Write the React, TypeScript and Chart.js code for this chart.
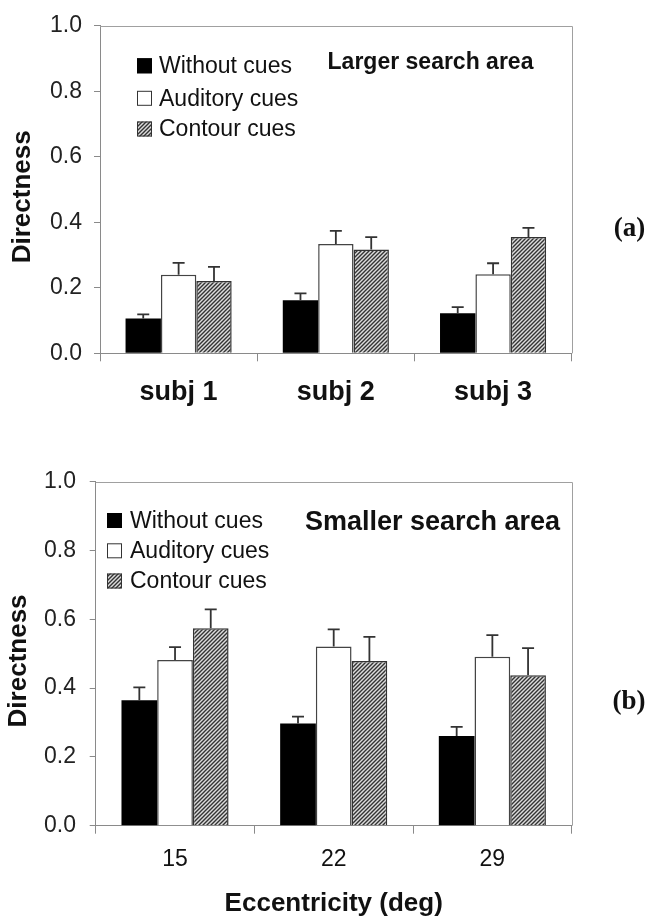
import React, { useEffect, useRef } from "react";
import { Chart, registerables } from "chart.js";

Chart.register(...registerables);

// ---------- data ----------
const seriesLabels = ["Without cues", "Auditory cues", "Contour cues"];

const subjects = ["subj 1", "subj 2", "subj 3"];
const withoutA = [0.106, 0.162, 0.122];
const auditoryA = [0.24, 0.334, 0.241];
const contourA = [0.221, 0.317, 0.355];
const withoutErrA = [0.013, 0.021, 0.019];
const auditoryErrA = [0.036, 0.04, 0.034];
const contourErrA = [0.043, 0.038, 0.028];

const eccentricities = ["15", "22", "29"];
const withoutB = [0.365, 0.297, 0.261];
const auditoryB = [0.482, 0.521, 0.491];
const contourB = [0.574, 0.479, 0.437];
const withoutErrB = [0.037, 0.02, 0.026];
const auditoryErrB = [0.037, 0.05, 0.063];
const contourErrB = [0.055, 0.07, 0.079];

const panelATitle = "Larger search area";
const panelBTitle = "Smaller search area";
const yTitle = "Directness";
const xTitleB = "Eccentricity (deg)";

// ---------- styling ----------
const SANS = '"Liberation Sans", Arial, Helvetica, sans-serif';
const SERIF = '"Liberation Serif", "Times New Roman", serif';
const AXIS = "#8a8a8a";

function makeHatch(): CanvasPattern | string {
  const c = document.createElement("canvas");
  c.width = 4;
  c.height = 4;
  const g = c.getContext("2d");
  if (!g) return "#999";
  g.fillStyle = "#dcdcdc";
  g.fillRect(0, 0, 4, 4);
  g.strokeStyle = "#333";
  g.lineWidth = 1.4;
  g.beginPath();
  g.moveTo(-1, 5);
  g.lineTo(5, -1);
  g.moveTo(-1, 1);
  g.lineTo(1, -1);
  g.moveTo(3, 5);
  g.lineTo(5, 3);
  g.stroke();
  return g.createPattern(c, "repeat") || "#999";
}

type Decor = {
  errors: number[][];
  legendBoxX: number;
  legendTextX: number;
  legendRows: number[];
  title: string;
  titleFont: number;
  titleX: number;
  titleY: number;
  tag: string;
  tagX: number;
  tagY: number;
};

function decorPlugin(cfg: Decor) {
  return {
    id: "decor",
    afterDatasetsDraw(chart: any) {
      const ctx: CanvasRenderingContext2D = chart.ctx;
      const yScale = chart.scales.y;
      ctx.save();
      ctx.strokeStyle = "#333";
      ctx.lineWidth = 1.8;
      chart.data.datasets.forEach((ds: any, i: number) => {
        const meta = chart.getDatasetMeta(i);
        meta.data.forEach((bar: any, j: number) => {
          const v = ds.data[j] as number;
          const yTop = yScale.getPixelForValue(v + cfg.errors[i][j]);
          ctx.beginPath();
          ctx.moveTo(bar.x, bar.y);
          ctx.lineTo(bar.x, yTop);
          ctx.moveTo(bar.x - 6, yTop);
          ctx.lineTo(bar.x + 6, yTop);
          ctx.stroke();
        });
      });
      ctx.restore();
    },
    afterDraw(chart: any) {
      const ctx: CanvasRenderingContext2D = chart.ctx;
      const a = chart.chartArea;
      ctx.save();
      // top and right frame
      ctx.strokeStyle = "#a0a0a0";
      ctx.lineWidth = 1;
      ctx.beginPath();
      ctx.moveTo(a.left, Math.round(a.top) + 0.5);
      ctx.lineTo(Math.round(a.right) + 0.5, Math.round(a.top) + 0.5);
      ctx.lineTo(Math.round(a.right) + 0.5, a.bottom);
      ctx.stroke();

      // legend
      ctx.font = `23px ${SANS}`;
      ctx.textBaseline = "middle";
      ctx.textAlign = "left";
      chart.data.datasets.forEach((ds: any, i: number) => {
        const cy = cfg.legendRows[i];
        const bx = cfg.legendBoxX;
        ctx.fillStyle = ds.backgroundColor;
        ctx.fillRect(bx, cy - 7.5, 15, 15);
        ctx.strokeStyle = i === 0 ? "#000" : "#333";
        ctx.lineWidth = 1;
        ctx.strokeRect(bx + 0.5, cy - 7, 14, 14);
        ctx.fillStyle = "#111";
        ctx.fillText(ds.label, cfg.legendTextX, cy + 1);
      });

      // panel title
      ctx.font = `bold ${cfg.titleFont}px ${SANS}`;
      ctx.textAlign = "center";
      ctx.fillStyle = "#111";
      ctx.fillText(cfg.title, cfg.titleX, cfg.titleY);

      // panel tag
      ctx.font = `bold 27px ${SERIF}`;
      ctx.fillText(cfg.tag, cfg.tagX, cfg.tagY);
      ctx.restore();
    },
  };
}

function buildConfig(
  labels: string[],
  series: number[][],
  hatch: CanvasPattern | string,
  geo: {
    padTop: number;
    padRight: number;
    yWidth: number;
    xHeight: number;
    xFont: any;
    xPad: number;
    yPad: number;
    yTitlePad: number;
    yTitleText: string;
    xTitle?: string;
  },
  decor: Decor
): any {
  return {
    type: "bar",
    data: {
      labels,
      datasets: [
        { label: seriesLabels[0], data: series[0], backgroundColor: "#000", borderColor: "#000", borderWidth: 0 },
        { label: seriesLabels[1], data: series[1], backgroundColor: "#fff", borderColor: "#444", borderWidth: 1.5 },
        { label: seriesLabels[2], data: series[2], backgroundColor: hatch, borderColor: "#333", borderWidth: 1.5 },
      ],
    },
    options: {
      responsive: false,
      animation: false,
      devicePixelRatio: 1,
      layout: { padding: { left: 0, top: geo.padTop, right: geo.padRight, bottom: 0 } },
      datasets: { bar: { categoryPercentage: 0.675, barPercentage: 1, borderSkipped: "bottom" } },
      plugins: { legend: { display: false }, tooltip: { enabled: false } },
      scales: {
        x: {
          grid: { display: true, offset: true, drawOnChartArea: false, tickLength: 8, color: AXIS },
          border: { display: true, color: AXIS },
          ticks: { font: geo.xFont, color: "#111", padding: geo.xPad },
          title: geo.xTitle
            ? { display: true, text: geo.xTitle, color: "#111", font: { family: SANS, size: 26, weight: "bold" }, padding: { top: 0, bottom: 0 } }
            : { display: false },
          afterFit: (s: any) => {
            s.height = geo.xHeight;
          },
        },
        y: {
          min: 0,
          max: 1,
          ticks: {
            stepSize: 0.2,
            callback: (v: any) => Number(v).toFixed(1),
            font: { family: SANS, size: 23 },
            color: "#222",
            padding: geo.yPad,
          },
          grid: { drawOnChartArea: false, tickLength: 6, color: AXIS },
          border: { display: true, color: AXIS },
          title: {
            display: true,
            text: geo.yTitleText,
            color: "#111",
            font: { family: SANS, size: 26, weight: "bold" },
            padding: { top: geo.yTitlePad, bottom: 0 },
          },
          afterFit: (s: any) => {
            s.width = geo.yWidth;
          },
        },
      },
    },
    plugins: [decorPlugin(decor)],
  };
}

export default function App() {
  const refA = useRef<HTMLCanvasElement>(null);
  const refB = useRef<HTMLCanvasElement>(null);

  useEffect(() => {
    const hatch = makeHatch();
    const chartA = new Chart(
      refA.current as HTMLCanvasElement,
      buildConfig(
        subjects,
        [withoutA, auditoryA, contourA],
        hatch,
        {
          padTop: 17.3,
          padRight: 77.3,
          yWidth: 100,
          xHeight: 86.7,
          xFont: { family: SANS, size: 27, weight: "bold" },
          xPad: 15.5,
          yPad: 12,
          yTitlePad: 7.4,
          yTitleText: yTitle + "  ",
        },
        {
          errors: [withoutErrA, auditoryErrA, contourErrA],
          legendBoxX: 137,
          legendTextX: 159,
          legendRows: [65.8, 98.3, 129],
          title: panelATitle,
          titleFont: 23,
          titleX: 430.5,
          titleY: 63,
          tag: "(a)",
          tagX: 629.5,
          tagY: 229,
        }
      )
    );
    const chartB = new Chart(
      refB.current as HTMLCanvasElement,
      buildConfig(
        eccentricities,
        [withoutB, auditoryB, contourB],
        hatch,
        {
          padTop: 41.7,
          padRight: 77.3,
          yWidth: 95.7,
          xHeight: 93.3,
          xFont: { family: SANS, size: 23 },
          xPad: 12.5,
          yPad: 13.7,
          yTitlePad: 2.9,
          yTitleText: yTitle + "  ",
          xTitle: xTitleB,
        },
        {
          errors: [withoutErrB, auditoryErrB, contourErrB],
          legendBoxX: 107,
          legendTextX: 130,
          legendRows: [80.5, 110.8, 141],
          title: panelBTitle,
          titleFont: 27,
          titleX: 432.5,
          titleY: 83,
          tag: "(b)",
          tagX: 629,
          tagY: 261.7,
        }
      )
    );
    return () => {
      chartA.destroy();
      chartB.destroy();
    };
  }, []);

  return (
    <div style={{ position: "absolute", left: 0, top: 0, width: 649, height: 919, background: "#fff" }}>
      <canvas ref={refA} width={649} height={440} style={{ position: "absolute", left: 0, top: 0, width: 649, height: 440 }} />
      <canvas ref={refB} width={649} height={479} style={{ position: "absolute", left: 0, top: 440, width: 649, height: 479 }} />
    </div>
  );
}
